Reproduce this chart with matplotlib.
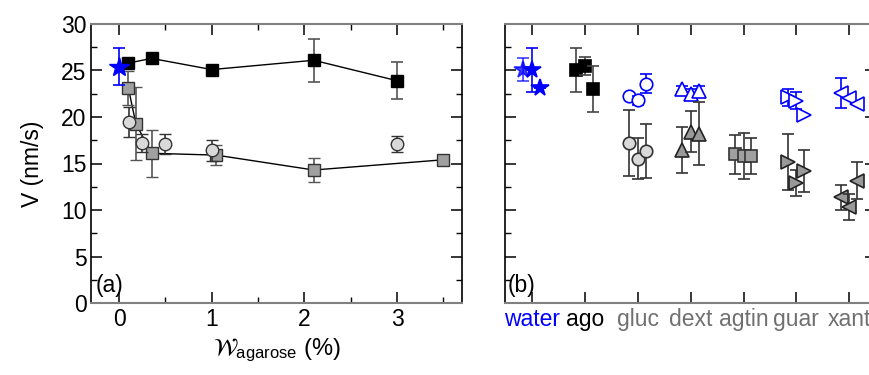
import numpy as np
import matplotlib.pyplot as plt
from matplotlib.ticker import MultipleLocator

plt.rcParams['font.family'] = ['Liberation Sans', 'DejaVu Sans']
plt.rcParams['mathtext.fontset'] = 'stix'

# ---- panel (a): V vs agarose content
star_x = [0.0]
star_v = [25.4]
star_err = [2.0]

blk_x = [0.1, 0.35, 1.0, 2.1, 3.0]
blk_v = [25.8, 26.3, 25.1, 26.1, 23.9]
blk_err = [0, 0, 0, 2.3, 2.0]

gsq_x = [0.1, 0.18, 0.35, 1.05, 2.1, 3.5]
gsq_v = [23.1, 19.3, 16.1, 15.9, 14.3, 15.4]
gsq_err = [1.8, 3.9, 2.5, 1.1, 1.3, 0]

circ_x = [0.11, 0.25, 0.5, 1.0, 3.0]
circ_v = [19.5, 17.2, 17.1, 16.4, 17.1]
circ_err = [1.6, 1.0, 1.1, 1.1, 0.9]

# ---- panel (b): V per additive
cats = ['water', 'ago', 'gluc', 'dext', 'agtin', 'guar', 'xant']
cat_colors = ['#0000ff', 'black', '#707070', '#707070', '#707070', '#707070', '#707070']

water_v = [25.1, 25.05, 23.15]
water_err = [1.2, 2.4, 0]
ago_v = [25.05, 25.5, 23.0]
ago_err = [2.4, 1.0, 2.5]
gluc_open_v = [22.25, 21.8, 23.6]
gluc_open_err = [0, 0.5, 1.0]
gluc_gray_v = [17.2, 15.5, 16.3]
gluc_gray_err = [3.5, 2.2, 2.9]
dext_open_v = [23.0, 22.5, 22.8]
dext_open_err = [0.3, 0.5, 0.5]
dext_gray_v = [16.45, 18.4, 18.2]
dext_gray_err = [2.5, 2.2, 3.4]
agtin_v = [16.0, 15.8, 15.8]
agtin_err = [2.1, 2.5, 1.9]
guar_open_v = [22.1, 21.75, 20.2]
guar_open_err = [0.9, 0.9, 0]
guar_gray_v = [15.2, 12.9, 14.2]
guar_gray_err = [3.0, 1.4, 2.3]
xant_open_v = [22.6, 22.0, 21.4]
xant_open_err = [1.6, 0, 0]
xant_gray_v = [11.35, 10.3, 13.15]
xant_gray_err = [1.3, 1.4, 2.0]

offsets = np.array([-0.16, 0.0, 0.15])

fig = plt.figure(figsize=(8.7, 3.75), dpi=100)
axa = fig.add_axes([0.105, 0.192, 0.426, 0.744])
axb = fig.add_axes([0.581, 0.192, 0.4256, 0.744])


def style_axes(ax):
    for s in ['left', 'right']:
        ax.spines[s].set_color('black')
        ax.spines[s].set_linewidth(1.2)
    for s in ['top', 'bottom']:
        ax.spines[s].set_color('#808080')
        ax.spines[s].set_linewidth(1.5)
    ax.tick_params(which='both', direction='in', top=True, right=True, labelsize=16.5)
    ax.tick_params(which='major', length=8, width=1.1)
    ax.tick_params(which='minor', length=4.5, width=1.0)
    ax.set_ylim(0, 30)
    ax.yaxis.set_major_locator(MultipleLocator(5))
    ax.yaxis.set_minor_locator(MultipleLocator(2.5))


ekw = dict(capsize=4.5, elinewidth=1.2, capthick=1.2)

# panel (a)
style_axes(axa)
axa.plot(gsq_x, gsq_v, '-', color='black', lw=1, zorder=1)
axa.plot(blk_x, blk_v, '-', color='black', lw=1, zorder=1)
axa.errorbar(gsq_x, gsq_v, yerr=gsq_err, fmt='s', ms=8, mfc='#a0a0a0', mec='#333333',
             mew=1, ecolor='#555555', zorder=3, **ekw)
axa.errorbar(circ_x, circ_v, yerr=circ_err, fmt='o', ms=9, mfc='#d9d9d9', mec='#333333',
             mew=1, ecolor='#333333', zorder=4, **ekw)
axa.errorbar(blk_x, blk_v, yerr=blk_err, fmt='s', ms=8, mfc='black', mec='black',
             ecolor='#555555', zorder=4, **ekw)
axa.errorbar(star_x, star_v, yerr=star_err, fmt='*', ms=15, mfc='#0000ff', mec='#0000ff',
             ecolor='#0000ff', zorder=5, **ekw)
axa.set_xlim(-0.3, 3.7)
axa.xaxis.set_major_locator(MultipleLocator(1))
axa.xaxis.set_minor_locator(MultipleLocator(0.5))
axa.set_ylabel('V (nm/s)', fontsize=16.5, labelpad=12)
axa.set_xlabel(r'$\mathcal{W}_{\mathregular{agarose}}$ (%)', fontsize=17, labelpad=4)
axa.text(-0.25, 0.6, '(a)', fontsize=16.5, va='bottom')

# panel (b)
style_axes(axb)
axb.tick_params(axis='y', labelleft=False)
axb.set_xlim(-0.5, 6.5)
axb.set_xticks(range(len(cats)))
axb.set_xticklabels(cats, fontsize=16.5)
axb.tick_params(axis='x', which='minor', bottom=False, top=False)
for lab, c in zip(axb.get_xticklabels(), cat_colors):
    lab.set_color(c)

groups = [
    (0, water_v, water_err, '*', 13, '#0000ff', '#0000ff', '#0000ff'),
    (1, ago_v, ago_err, 's', 8, 'black', 'black', '#444444'),
    (2, gluc_open_v, gluc_open_err, 'o', 9, 'white', '#0000ff', '#0000ff'),
    (2, gluc_gray_v, gluc_gray_err, 'o', 9, '#d9d9d9', '#333333', '#333333'),
    (3, dext_open_v, dext_open_err, '^', 10, 'white', '#0000ff', '#0000ff'),
    (3, dext_gray_v, dext_gray_err, '^', 10, '#999999', '#222222', '#333333'),
    (4, agtin_v, agtin_err, 's', 8, '#a0a0a0', '#333333', '#333333'),
    (5, guar_open_v, guar_open_err, '>', 10, 'white', '#0000ff', '#0000ff'),
    (5, guar_gray_v, guar_gray_err, '>', 10, '#999999', '#222222', '#333333'),
    (6, xant_open_v, xant_open_err, '<', 10, 'white', '#0000ff', '#0000ff'),
    (6, xant_gray_v, xant_gray_err, '<', 10, '#999999', '#222222', '#333333'),
]
for ci, v, e, m, ms, fc, ec, errc in groups:
    for k in range(3):
        a = 0.75 if (ci == 0 and k == 0) else 1.0
        axb.errorbar(ci + offsets[k], v[k], yerr=e[k], fmt=m, ms=ms, mfc=fc, mec=ec,
                     mew=1.2, ecolor=errc, alpha=a, zorder=3 + k, **ekw)
axb.text(-0.45, 0.6, '(b)', fontsize=16.5, va='bottom')

fig.savefig('out.png', dpi=100)
